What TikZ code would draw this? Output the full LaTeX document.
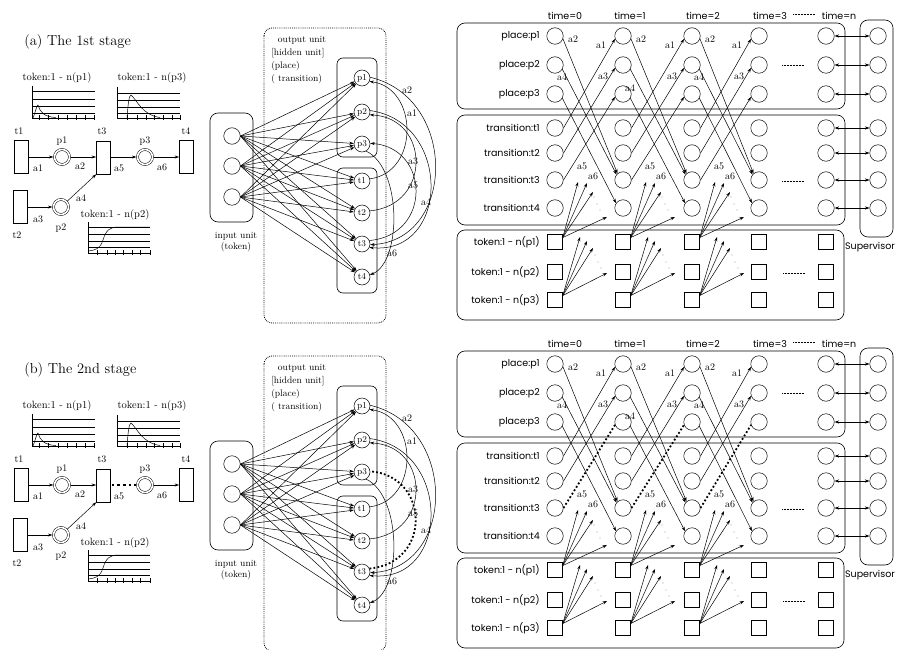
\documentclass[tikz,border=0pt]{standalone}
\usepackage{fontspec}
\newfontfamily\rsans{Poppins}
\usetikzlibrary{arrows.meta,calc}
\tikzset{
  arr/.style={-{Stealth[length=4.5pt,width=3pt]}},
  darr/.style={{Stealth[length=4.5pt,width=3pt]}-{Stealth[length=4.5pt,width=3pt]}},
  serifl/.style={font=\fontsize{9.5}{11.5}\selectfont, inner sep=0pt},
  chartl/.style={font=\fontsize{10.5}{12}\selectfont, inner sep=0pt},
  alab/.style={font=\fontsize{10}{11}\selectfont, inner sep=0pt},
  trans/.style={draw, minimum width=14pt, minimum height=33pt, inner sep=0pt, line width=0.6pt},
  place/.style={draw, circle, double, double distance=1.6pt, minimum size=15pt, inner sep=0pt},
  unit/.style={draw, circle, minimum size=16pt, inner sep=0pt, font=\fontsize{9}{9}\selectfont},
  cell/.style={draw, circle, minimum size=16.5pt, inner sep=0pt},
  sq/.style={draw, minimum size=15pt, inner sep=0pt},
  rlab/.style={font=\rsans\fontsize{9.5}{10}\selectfont, anchor=east, inner sep=0pt},
  box/.style={draw, rounded corners=8pt, line width=0.6pt},
  dotbox/.style={draw, rounded corners=8pt, line width=0.8pt, dash pattern=on 0.8pt off 1.1pt},
  afive/.style={arr},
  afivebig/.style={arr, shorten >=0.8pt},
  dotsm/.style={fill, circle, inner sep=0pt, minimum size=0.9pt},
}
\newcommand\stagebody{%
  % ---------- token charts ----------
  \node[chartl] (c1lab) at (57,78) {token:1 - n(p1)};
  \draw (32,86) -- (32,118) -- (95,118);
  \foreach \yy in {91,99,106,113} \draw (32,\yy) -- (95,\yy);
  \foreach \xx in {39,48,58,67,76,85,94} \draw (\xx,115) -- (\xx,120);
  \draw (33,118) .. controls (36,110) and (37,105) .. (38,105) .. controls (40,112) and (44,117) .. (56,117.5);
  \node[chartl] (c3lab) at (152,78) {token:1 - n(p3)};
  \draw (117,87) -- (117,118) -- (180,118);
  \foreach \yy in {93,100,107,113} \draw (117,\yy) -- (180,\yy);
  \foreach \xx in {127,137,146,154,163,172,180} \draw (\xx,115) -- (\xx,120);
  \draw (127,118) .. controls (128,105) and (129,95) .. (131,95) .. controls (137,100) and (142,115) .. (160,117.5);
  \node[chartl] (c2lab) at (115,215) {token:1 - n(p2)};
  \draw (88,222) -- (88,253) -- (150,253);
  \foreach \yy in {227,234,241,247} \draw (88,\yy) -- (150,\yy);
  \foreach \xx in {97,107,115,123,132,140,150} \draw (\xx,250) -- (\xx,255);
  \draw (88,251) .. controls (96,250) and (100,249) .. (103,240) .. controls (106,230) and (110,227) .. (118,227) -- (150,227);
  % ---------- Petri net ----------
  \node[trans] (t1) at (21,157) {};
  \node[trans] (t3) at (103.5,157.5) {};
  \node[trans] (t4) at (186.5,157) {};
  \node[trans] (t2) at (20,207) {};
  \node[place] (p1) at (62,157) {};
  \node[place] (p3) at (145,157) {};
  \node[place] (p2) at (61,207) {};
  \node[alab] (t1l) at (19,131) {t1};
  \node[alab] (t3l) at (102,131) {t3};
  \node[alab] (t4l) at (186,131) {t4};
  \node[alab] (t2l) at (17,235) {t2};
  \node[alab] (p1l) at (62,141) {p1};
  \node[alab] (p3l) at (145,141) {p3};
  \node[alab] (p2l) at (61,228) {p2};
  \draw[arr, shorten >=0.8pt] (t1.east) -- (p1);
  \draw[arr, shorten <=0.8pt] (p1) -- (p1 -| t3.west);
  \draw[afivebig] (t3.east |- p3) -- (p3);
  \draw[arr, shorten <=0.8pt] (p3) -- (p3 -| t4.west);
  \draw[arr, shorten >=0.8pt] (t2.east |- p2) -- (p2);
  \draw[arr, shorten <=0.8pt] (p2) -- (t3.south west);
  \node[alab] (pa1) at (38,168) {a1};
  \node[alab] (pa2) at (80,166) {a2};
  \node[alab] (pa5) at (119,168) {a5};
  \node[alab] (pa6) at (162,167) {a6};
  \node[alab] (pa3) at (38,219) {a3};
  \node[alab] (pa4) at (81,198) {a4};
  % ---------- neural network ----------
  \draw[box] (210,113) rectangle (253,222);
  \node[cell] (in1) at (232,136) {};
  \node[cell] (in2) at (232,166) {};
  \node[cell] (in3) at (232,197) {};
  \node[serifl, align=center] (inl) at (236,242) {input unit\\(token)};
  \draw[dotbox] (264,28) rectangle (386,323);
  \node[serifl] (ou1) at (302,40) {output unit};
  \node[serifl, anchor=west] (ou2) at (271,53) {[hidden unit]};
  \node[serifl, anchor=west] (ou3) at (271,66) {(place)};
  \node[serifl, anchor=west] (ou4) at (271,79) {( transition)};
  \draw[box, rounded corners=6pt] (337,58) rectangle (377,157);
  \draw[box, rounded corners=6pt] (337,168) rectangle (377,293);
  \foreach \n/\yy in {p1/78,p2/112,p3/144,t1/181,t2/213,t3/244,t4/277}
    \node[unit] (o\n) at (362,\yy) {\n};
  \foreach \i in {1,2,3}
    \foreach \n in {p1,p2,p3,t1,t2,t3,t4}
      \draw[arr] (in\i.east) -- (o\n);
  \draw[arr] (op1.5) .. controls (458,98) and (456,240) .. (ot3.-5);
  \draw[arr] (op2.10) .. controls (452,122) and (450,255) .. (ot3.-25);
  \draw[arr] (ot1.15) .. controls (420,172) and (418,88) .. (op1.-25);
  \draw[arr] (ot2.15) .. controls (432,205) and (430,118) .. (op2.-20);
  \draw[afive] (ot3.25) .. controls (432,235) and (430,148) .. (op3.5);
  \draw[arr] (op3.-60) .. controls (402,168) and (402,262) .. (ot4.15);
  \node[alab] (na2) at (407,90) {a2};
  \node[alab] (na1) at (412,113) {a1};
  \node[alab] (na3) at (413,161) {a3};
  \node[alab] (na5) at (413,185) {a5};
  \node[alab] (na4) at (426,202) {a4};
  \node[alab] (na6) at (392,253) {a6};
  % ---------- time-expanded net ----------
  \foreach \t/\xx in {0/565,1/630,2/703,3/770,n/839}
    \node[rlab, anchor=center] (time\t) at (\xx,16) {time=\t};
  \draw[densely dotted] (793,14) -- (815,14);
  \draw[box] (457,23) rectangle (845,109);
  \draw[box] (457,115) rectangle (845,225);
  \draw[box] (457,230) rectangle (844,320);
  \draw[box] (860,20) rectangle (893,237);
  \node[rlab, anchor=center] (suplab) at (870,247) {Supervisor};
  \foreach \r/\yy/\tx in {p1/36/place:p1, p2/65/place:p2, p3/94/place:p3,
      t1/128/transition:t1, t2/153/transition:t2, t3/180/transition:t3, t4/208/transition:t4,
      k1/242/token:1 - n(p1), k2/272/token:1 - n(p2), k3/300/token:1 - n(p3)}
    \node[rlab] (l\r) at (540,\yy) {\tx};
  \foreach \c/\xx in {0/555,1/623,2/692,3/759,n/826} {
    \foreach \r/\yy in {p1/36,p2/65,p3/94,t1/128,t2/153,t3/180,t4/208}
      \node[cell] (\r-\c) at (\xx,\yy) {};
    \foreach \r/\yy in {k1/242,k2/272,k3/300}
      \node[sq] (\r-\c) at (\xx,\yy) {};
  }
  \foreach \r/\yy in {p1/36,p2/65,p3/94,t1/128,t2/153,t3/180,t4/208} {
    \node[cell] (\r-s) at (878,\yy) {};
    \draw[darr] (\r-n.east) -- (\r-s.west);
  }
  \draw[densely dotted] (782,65) -- (804,65);
  \draw[densely dotted] (782,181) -- (804,181);
  \draw[densely dotted] (783,273) -- (805,273);
  \foreach \k/\kk/\xx/\nx/\dy in {0/1/555/623/0, 1/2/623/692/11, 2/3/692/759/0} {
    \draw[arr] (t1-\k.east) -- (p1-\kk.200);
    \draw[arr] (t2-\k.east) -- (p2-\kk.200);
    \draw[afive] (t3-\k.east) -- (p3-\kk.200);
    \draw[arr] (p1-\k.-20) -- (t3-\kk.130);
    \draw[arr] (p2-\k.-30) -- (t3-\kk.140);
    \draw[arr] (p3-\k.-30) -- (t4-\kk.145);
    \node[alab] (ra1-\kk) at (\nx-22,45) {a1};
    \node[alab] (ra3-\kk) at (\nx-20,76) {a3};
    \node[alab] (ra2-\k) at (\xx+18,39) {a2};
    \node[alab] (ra4-\k) at (\xx+7,77+\dy) {a4};
    \node[alab] (ra5-\k) at (\xx+27,166) {a5};
    \node[alab] (ra6-\k) at (\xx+38,176) {a6};
    \coordinate (fa1-\k) at (\xx+23,182);
    \coordinate (fa2-\k) at (\xx+32,183);
    \coordinate (fa3-\k) at (\xx+38,192);
    \coordinate (fa4-\k) at (\xx+52,217);
    \foreach \j in {1,2,3,4} \draw[arr] (k1-\k.30) -- (fa\j-\k);
    \node[dotsm] (fd1-\k) at (\xx+39,197) {};
    \node[dotsm] (fd2-\k) at (\xx+42,204) {};
    \node[dotsm] (fd3-\k) at (\xx+45,210) {};
    \coordinate (fb1-\k) at (\xx+25,237);
    \coordinate (fb2-\k) at (\xx+32,241);
    \coordinate (fb3-\k) at (\xx+38,248);
    \coordinate (fb4-\k) at (\xx+52,273);
    \foreach \j in {1,2,3,4} \draw[arr] (k3-\k.30) -- (fb\j-\k);
    \node[dotsm] (fe1-\k) at (\xx+40,255) {};
    \node[dotsm] (fe2-\k) at (\xx+43,262) {};
    \node[dotsm] (fe3-\k) at (\xx+46,268) {};
  }
}
\begin{document}
\begin{tikzpicture}[x=1pt,y=-1pt,line width=0.5pt]
  \path[use as bounding box] (0,0) rectangle (897,650);
  \begin{scope}[name prefix=a-]
    \node[anchor=west, font=\fontsize{14.5}{16}\selectfont, inner sep=0pt] (title) at (24,42) {(a) The 1st stage};
    \stagebody
  \end{scope}
  \begin{scope}[yshift=-328pt, name prefix=b-,
      afive/.style={line width=1.8pt, dash pattern=on 1.8pt off 2.2pt},
      afivebig/.style={line width=2.6pt, dash pattern=on 2.6pt off 3pt, shorten >=1.2pt, shorten <=1pt}]
    \node[anchor=west, font=\fontsize{14.5}{16}\selectfont, inner sep=0pt] (title) at (24,42) {(b) The 2nd stage};
    \stagebody
  \end{scope}
\end{tikzpicture}
\end{document}
